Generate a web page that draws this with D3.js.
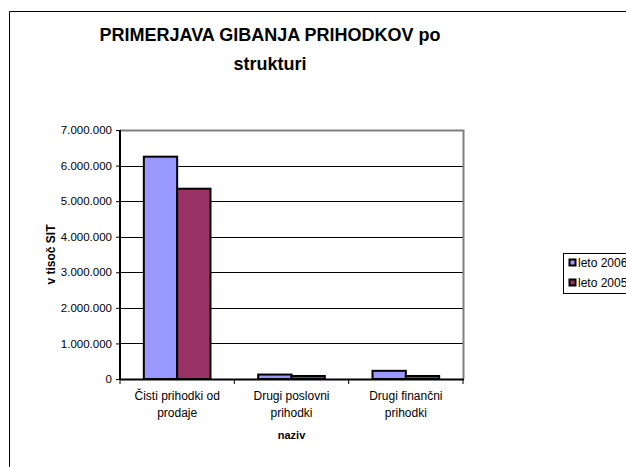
<!DOCTYPE html>
<html>
<head>
<meta charset="utf-8">
<script src="https://cdn.jsdelivr.net/npm/d3@7"></script>
<style>
  body { margin: 0; background: #fff; }
  svg { display: block; font-family: "Liberation Sans", Arial, sans-serif; }
</style>
</head>
<body>
<svg id="chart" width="626" height="467"></svg>
<script>
var categories = [["Čisti prihodki od", "prodaje"], ["Drugi poslovni", "prihodki"], ["Drugi finančni", "prihodki"]];
var seriesNames = ["leto 2006", "leto 2005"];
var values2006 = [6250000, 125000, 230000];
var values2005 = [5350000, 85000, 85000];
var yTicks = [0, 1000000, 2000000, 3000000, 4000000, 5000000, 6000000, 7000000];
var seriesColors = ["#9999ff", "#993366"];

var plotLeft = 120, plotRight = 463, plotTop = 130, plotBottom = 379;

var svg = d3.select("#chart");

// outer chart border
svg.append("path")
    .attr("d", "M9.5,467 L9.5,11.5 L626,11.5")
    .attr("fill", "none")
    .attr("stroke", "#000")
    .attr("stroke-width", 1);

// title
var title = svg.append("text")
    .attr("text-anchor", "middle")
    .attr("font-size", "18px")
    .attr("font-weight", "bold");
title.append("tspan").attr("x", 270).attr("y", 41).text("PRIMERJAVA GIBANJA PRIHODKOV po");
title.append("tspan").attr("x", 270).attr("y", 70).text("strukturi");

var y = d3.scaleLinear().domain([0, 7000000]).range([plotBottom, plotTop]);
var x0 = d3.scaleBand().domain(d3.range(categories.length)).range([plotLeft, plotRight]);
var x1 = d3.scaleBand().domain([0, 1]).range([0, x0.bandwidth()]).paddingOuter(0.715).paddingInner(0);

// gridlines
svg.append("g").selectAll("line")
    .data(yTicks.slice(1, -1))
    .join("line")
    .attr("x1", plotLeft).attr("x2", plotRight)
    .attr("y1", function(d) { return Math.round(y(d)) + 0.5; })
    .attr("y2", function(d) { return Math.round(y(d)) + 0.5; })
    .attr("stroke", "#000")
    .attr("stroke-width", 1);

// plot area border (top / right)
svg.append("path")
    .attr("d", "M" + plotLeft + "," + (plotTop + 0.5) + " L" + (plotRight + 0.5) + "," + (plotTop + 0.5) + " L" + (plotRight + 0.5) + "," + plotBottom)
    .attr("fill", "none")
    .attr("stroke", "#808080")
    .attr("stroke-width", 2);

// bars
var data = categories.map(function(c, i) { return [values2006[i], values2005[i]]; });
var groups = svg.append("g").selectAll("g")
    .data(data)
    .join("g")
    .attr("transform", function(d, i) { return "translate(" + x0(i) + ",0)"; });
groups.selectAll("rect")
    .data(function(d) { return d; })
    .join("rect")
    .attr("x", function(d, j) { return x1(j); })
    .attr("width", x1.bandwidth())
    .attr("y", function(d) { return y(d); })
    .attr("height", function(d) { return plotBottom - y(d); })
    .attr("fill", function(d, j) { return seriesColors[j]; })
    .attr("stroke", "#000")
    .attr("stroke-width", 2);

// y axis
var yAxis = svg.append("g")
    .attr("transform", "translate(" + plotLeft + ",0)")
    .call(d3.axisLeft(y).tickValues(yTicks).tickSize(4).tickPadding(4)
        .tickFormat(function(d) { return d3.format(",")(d).replace(/,/g, "."); }));
yAxis.select(".domain").attr("stroke-width", 2).attr("d", "M0," + plotTop + "V" + (plotBottom + 1));
yAxis.selectAll("text").attr("font-size", "11.5px").attr("font-family", "Liberation Sans, Arial, sans-serif").attr("fill", "#000");

// x axis
var xAxis = svg.append("g")
    .attr("transform", "translate(0," + plotBottom + ")");
xAxis.append("line")
    .attr("x1", plotLeft).attr("x2", plotRight + 1)
    .attr("y1", 0.5).attr("y2", 0.5)
    .attr("stroke", "#000").attr("stroke-width", 2);
xAxis.selectAll("line.tick")
    .data(d3.range(categories.length + 1))
    .join("line")
    .attr("class", "tick")
    .attr("x1", function(i) { return i < categories.length ? x0(i) : plotRight; })
    .attr("x2", function(i) { return i < categories.length ? x0(i) : plotRight; })
    .attr("y1", 0).attr("y2", 5)
    .attr("stroke", "#000");
var labels = xAxis.selectAll("text.cat")
    .data(categories)
    .join("text")
    .attr("class", "cat")
    .attr("text-anchor", "middle")
    .attr("font-size", "12px");
labels.each(function(d, i) {
    var t = d3.select(this);
    d.forEach(function(line, k) {
        t.append("tspan")
            .attr("x", x0(i) + x0.bandwidth() / 2)
            .attr("y", 21 + k * 17)
            .text(line);
    });
});

// axis titles
svg.append("text")
    .attr("x", (plotLeft + plotRight) / 2).attr("y", 439)
    .attr("text-anchor", "middle")
    .attr("font-size", "11px").attr("font-weight", "bold")
    .text("naziv");
svg.append("text")
    .attr("transform", "translate(55," + (plotTop + plotBottom) / 2 + ") rotate(-90)")
    .attr("text-anchor", "middle")
    .attr("font-size", "12px").attr("font-weight", "bold")
    .text("v tisoč SIT");

// legend
var legend = svg.append("g");
legend.append("rect")
    .attr("x", 563.5).attr("y", 253.5)
    .attr("width", 70).attr("height", 40)
    .attr("fill", "#fff").attr("stroke", "#000");
var items = legend.selectAll("g.item")
    .data(seriesNames)
    .join("g")
    .attr("class", "item")
    .attr("transform", function(d, i) { return "translate(569," + (263 + i * 20) + ")"; });
items.append("rect")
    .attr("x", 0.5).attr("y", -3.5)
    .attr("width", 6).attr("height", 6)
    .attr("fill", function(d, i) { return seriesColors[i]; })
    .attr("stroke", "#000").attr("stroke-width", 2);
items.append("text")
    .attr("x", 9).attr("y", 4)
    .attr("font-size", "12px")
    .text(function(d) { return d; });
</script>
</body>
</html>
